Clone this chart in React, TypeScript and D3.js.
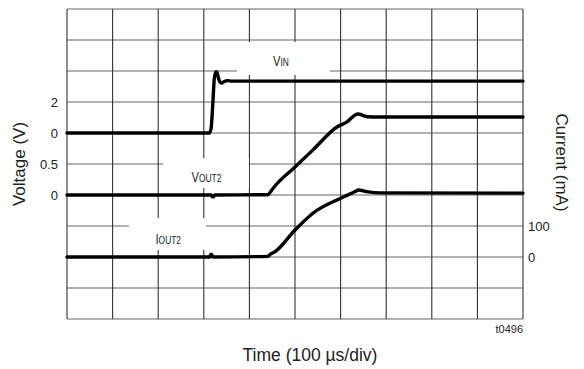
import React from "react";
import * as d3 from "d3";

// Time in microseconds (100 µs/div, 10 divisions)
const vinTime = [0, 312, 316, 320, 323, 327, 329, 333, 339, 345, 351, 362, 1000];
const vinVolts = [0, 0, 0.3, 2.0, 3.5, 3.95, 3.9, 3.45, 3.22, 3.32, 3.38, 3.35, 3.35];

const vout2Time = [0, 316, 319, 321, 324, 440, 449, 456, 500, 540, 592, 614, 632, 638, 658, 686, 1000];
const vout2Volts = [0, 0, -0.03, -0.03, 0, 0.005, 0.08, 0.145, 0.452, 0.732, 1.097, 1.18, 1.29, 1.306, 1.263, 1.258, 1.258];

const iout2Time = [0, 313, 315, 317, 320, 440, 447, 456, 500, 540, 599, 632, 639, 657, 686, 1000];
const iout2mA = [0, 0, 8, 8, 0, 2, 10, 17, 87, 142, 189, 211, 216, 211, 207, 206];

const leftTickLabels = [
  { label: "2", row: 3 },
  { label: "0", row: 4 },
  { label: "0.5", row: 5 },
  { label: "0", row: 6 },
];
const rightTickLabels = [
  { label: "100", row: 7 },
  { label: "0", row: 8 },
];

const W = 584;
const H = 369;
const M = { left: 67, top: 9, right: 523, bottom: 319 };
const FONT = "'Liberation Sans', Arial, sans-serif";

export default function App() {
  const x = d3.scaleLinear().domain([0, 1000]).range([M.left, M.right]);
  const rowY = d3.scaleLinear().domain([0, 10]).range([M.top, M.bottom]);

  const yVin = d3.scaleLinear().domain([0, 2]).range([rowY(4), rowY(3)]);
  const yVout = d3.scaleLinear().domain([0, 0.5]).range([rowY(6), rowY(5)]);
  const yIout = d3.scaleLinear().domain([0, 100]).range([rowY(8), rowY(7)]);

  const mk = (ts: number[], vs: number[], ys: d3.ScaleLinear<number, number>) =>
    d3
      .line<number>()
      .x((_, i) => x(ts[i]))
      .y((v) => ys(v))
      .curve(d3.curveMonotoneX)(vs) as string;

  const vLines = d3.range(0, 11).map((i) => x(i * 100));
  const hLines = d3.range(0, 11).map((i) => rowY(i));

  // label boxes that mask the grid
  const boxes = [
    { x0: 237, x1: 330, y0: 42, y1: 75 },
    { x0: 163, x1: 249, y0: 158, y1: 188 },
    { x0: 129, x1: 206, y0: 218, y1: 250 },
  ];

  const traceLabels = [
    { main: "V", sub: "IN", x: 273, y: 66 },
    { main: "V", sub: "OUT2", x: 191.5, y: 182 },
    { main: "I", sub: "OUT2", x: 155.5, y: 244 },
  ];

  return (
    <svg
      width={W}
      height={H}
      style={{ position: "absolute", left: 0, top: 0, background: "#fff" }}
      fontFamily={FONT}
    >
      <rect x={0} y={0} width={W} height={H} fill="#fff" />
      {hLines.map((y, i) => (
        <line key={"h" + i} x1={M.left} x2={M.right} y1={y} y2={y} stroke="#666" strokeWidth={1.1} />
      ))}
      {vLines.map((xx, i) => (
        <line key={"v" + i} x1={xx} x2={xx} y1={M.top} y2={M.bottom} stroke="#333" strokeWidth={1.1} />
      ))}
      {boxes.map((b, i) => (
        <rect key={"b" + i} x={b.x0} y={b.y0} width={b.x1 - b.x0} height={b.y1 - b.y0} fill="#fff" />
      ))}
      <path d={mk(vinTime, vinVolts, yVin)} fill="none" stroke="#000" strokeWidth={3.4} strokeLinejoin="round" strokeLinecap="round" />
      <path d={mk(vout2Time, vout2Volts, yVout)} fill="none" stroke="#000" strokeWidth={3.4} strokeLinejoin="round" strokeLinecap="round" />
      <path d={mk(iout2Time, iout2mA, yIout)} fill="none" stroke="#000" strokeWidth={3.4} strokeLinejoin="round" strokeLinecap="round" />

      {/* trace labels */}
      {traceLabels.map((t, i) => (
        <text key={"t" + i} transform={`translate(${t.x},${t.y}) scale(0.8,1)`} fontSize={14} fill="#222">
          {t.main}
          <tspan fontSize={10.5}>{t.sub}</tspan>
        </text>
      ))}

      {/* left ticks */}
      {leftTickLabels.map((t, i) => (
        <text key={"l" + i} x={58} y={rowY(t.row)} dy="0.35em" textAnchor="end" fontSize={13} fill="#222">
          {t.label}
        </text>
      ))}
      {rightTickLabels.map((t, i) => (
        <text key={"r" + i} x={528} y={rowY(t.row)} dy="0.35em" textAnchor="start" fontSize={13} fill="#222">
          {t.label}
        </text>
      ))}

      <text x={523} y={333} textAnchor="end" fontSize={11} fill="#222">
        t0496
      </text>

      <text
        transform={`translate(${25},${164}) rotate(-90)`}
        textAnchor="middle"
        fontSize={17}
        fill="#222"
      >
        Voltage (V)
      </text>
      <text
        transform={`translate(${556},${162.5}) rotate(90)`}
        textAnchor="middle"
        fontSize={17}
        fill="#222"
      >
        Current (mA)
      </text>
      <text x={310} y={361} textAnchor="middle" fontSize={17.5} fill="#222">
        Time (100 µs/div)
      </text>
    </svg>
  );
}
